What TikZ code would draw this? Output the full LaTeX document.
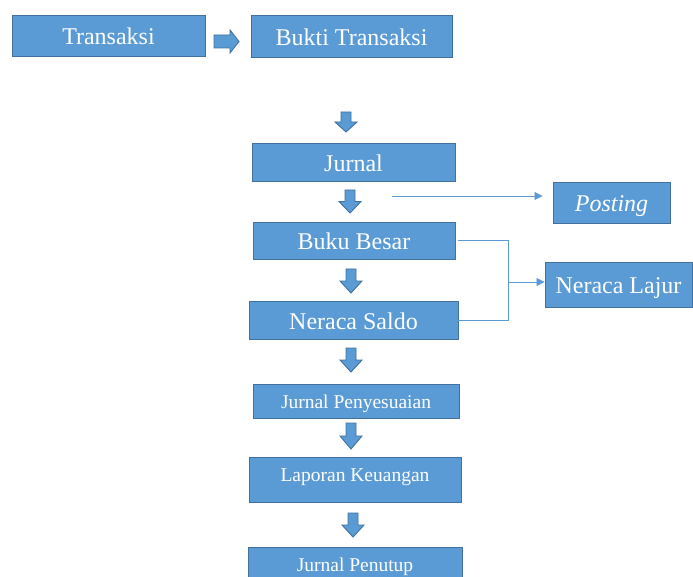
\documentclass[tikz,border=0pt]{standalone}
\usepackage{fontspec}
\setmainfont{Liberation Serif}
\newfontfamily\tnr{Liberation Serif}
\usetikzlibrary{arrows.meta}
\definecolor{boxfill}{HTML}{5B9BD5}
\definecolor{boxline}{HTML}{41719C}
\definecolor{connc}{HTML}{5B9BD5}
\newcommand\bdown[3]{% center x, top y, length
  \fill[boxfill,draw=boxline,line width=0.9pt] (#1-5,#2) -- (#1+5,#2) -- (#1+5,#2+#3/2) -- (#1+11,#2+#3/2) -- (#1,#2+#3) -- (#1-11,#2+#3/2) -- (#1-5,#2+#3/2) -- cycle;}
\tikzset{
  box/.style={draw=boxline,fill=boxfill,line width=0.9pt,text=white,inner sep=0pt,
    font=\tnr\fontsize{24}{28}\selectfont,text height=22pt,text depth=3pt},
  sbox/.style={box,font=\tnr\fontsize{19.5}{23}\selectfont,text height=18pt,text depth=3pt},
  conn/.style={draw=connc,line width=0.8pt},
  connarr/.style={conn,-{Triangle[length=8pt,width=8pt]}}
}
\begin{document}
\begin{tikzpicture}[x=1pt,y=-1pt]
\useasboundingbox (0,0) rectangle (693,577);
\node[box,minimum width=193pt,minimum height=41pt] (trans) at (108.5,35.5) {Transaksi};
\node[box,minimum width=201pt,minimum height=42pt] (bukti) at (351.5,36) {Bukti Transaksi};
\node[box,minimum width=203pt,minimum height=38pt] (jurnal) at (353.5,162) {Jurnal};
\node[box,minimum width=117pt,minimum height=41pt] (posting) at (611.5,202.5) {\itshape Posting};
\node[box,minimum width=202pt,minimum height=37pt] (buku) at (354,240.5) {Buku Besar};
\node[box,minimum width=147pt,minimum height=45pt] (lajur) at (618.5,284.5) {Neraca Lajur};
\node[box,minimum width=209pt,minimum height=38pt] (saldo) at (353.5,320) {Neraca Saldo};
\node[sbox,minimum width=206pt,minimum height=34pt] (penyes) at (356,401) {Jurnal Penyesuaian};
\node[sbox,minimum width=212pt,minimum height=45pt,text height=10pt,text depth=6pt] (lapor) at (355,479.5) {Laporan Keuangan};
\node[sbox,minimum width=214pt,minimum height=40pt,text height=12pt,text depth=3pt] (penutup) at (355,567) {Jurnal Penutup};
% right block arrow
\fill[boxfill,draw=boxline,line width=0.9pt] (214,35) -- (230,35) -- (230,30) -- (239,41.5) -- (230,53) -- (230,48) -- (214,48) -- cycle;
% down block arrows
\bdown{346}{112}{20}
\bdown{350}{190}{23}
\bdown{351}{269}{24}
\bdown{351}{348}{24}
\bdown{351}{423}{26}
\bdown{353}{513}{24}
% connectors
\coordinate (p0) at (392,196);
\draw[connarr] (p0) -- ([xshift=-10pt]posting.west |- p0);
\coordinate (j) at (508,282);
\draw[conn] ([xshift=3pt]buku.east) -| (j);
\draw[conn] (saldo.east) -| (j);
\draw[connarr] (j) -- (lajur.west |- j);
\end{tikzpicture}
\end{document}
